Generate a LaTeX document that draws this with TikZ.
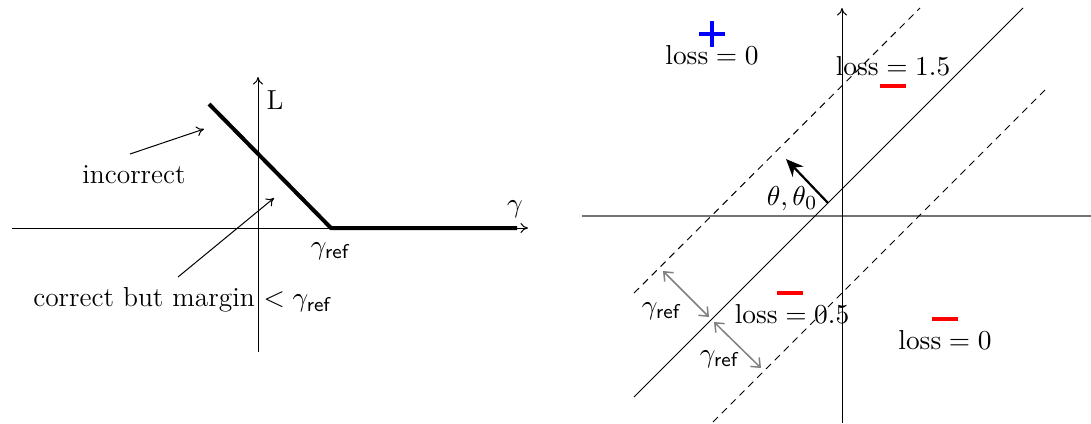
\documentclass[tikz,border=0pt]{standalone}
\usetikzlibrary{arrows.meta}
\begin{document}
\begin{tikzpicture}[x=0.4pt,y=-0.4pt,
  every node/.style={font=\fontsize{11}{13}\selectfont, inner sep=1pt},
  axis/.style={line width=0.4pt, -{To[length=3pt,width=4pt]}},
  thickline/.style={line width=1.6pt},
  ann/.style={line width=0.4pt, -{To[length=3pt,width=4pt]}},
  dashline/.style={line width=0.4pt, dash pattern=on 2.8pt off 2.2pt},
  gap/.style={gray, line width=0.6pt, {Straight Barb[length=3pt,width=5pt]}-{Straight Barb[length=3pt,width=5pt]}},
  minus/.style={red, line width=1.6pt},
  plus/.style={blue, line width=1.6pt}]
\useasboundingbox (0,0) rectangle (1091,423);
% ---------- left plot ----------
\coordinate (hl) at (12,228); \coordinate (hr) at (528,228);
\coordinate (vb) at (258,352); \coordinate (vt) at (258,77);
\draw[axis] (hl) -- (hr);
\draw[axis] (vb) -- (vt);
\coordinate (p1) at (209,104); \coordinate (p2) at (331,228); \coordinate (p3) at (517,228);
\draw[thickline] (p1) -- (p2) -- (p3);
\node (Llab) at (275,100) {L};
\node (glab) at (515,209) {$\gamma$};
\node (gref) at (331,251) {$\gamma_{\mathsf{ref}}$};
\node (inc) at (134,175) {incorrect};
\coordinate (inc0) at (130,154); \coordinate (inc1) at (204,129);
\draw[ann] (inc0) -- (inc1);
\node (cor) at (183,300) {correct but margin $<\gamma_{\mathsf{ref}}$};
\coordinate (cor0) at (178,277); \coordinate (cor1) at (274,198);
\draw[ann] (cor0) -- (cor1);
% ---------- right plot ----------
\coordinate (rhl) at (582,216); \coordinate (rhr) at (1091,216);
\draw[gray!90!black, line width=0.9pt] (rhl) -- (rhr);
\coordinate (rvb) at (842,423); \coordinate (rvt) at (842,8);
\draw[axis] (rvb) -- (rvt);
\coordinate (s0) at (634,397); \coordinate (s1) at (1023,8);
\draw[line width=0.4pt] (s0) -- (s1);
\coordinate (u0) at (634,293); \coordinate (u1) at (920,8);
\draw[dashline] (u0) -- (u1);
\coordinate (d0) at (713,422); \coordinate (d1) at (1046,89);
\draw[dashline] (d0) -- (d1);
\coordinate (n0) at (828,203); \coordinate (n1) at (786,159);
\draw[line width=0.9pt, -{Stealth[length=7pt,width=6pt]}] (n0) -- (n1);
\node (theta) at (792,199) {$\theta,\theta_0$};
% margins
\coordinate (g1a) at (663,271); \coordinate (g1b) at (709,317);
\coordinate (g2a) at (714,322); \coordinate (g2b) at (761,368);
\draw[gap] (g1a) -- (g1b);
\draw[gap] (g2a) -- (g2b);
\node (gr1) at (662,311) {$\gamma_{\mathsf{ref}}$};
\node (gr2) at (720,359) {$\gamma_{\mathsf{ref}}$};
% labels
\node (l0a) at (712,55) {$\mathrm{loss}=0$};
\node (l15) at (893,66) {$\mathrm{loss}=1.5$};
\node (l05) at (792,314) {$\mathrm{loss}=0.5$};
\node (l0b) at (945,340) {$\mathrm{loss}=0$};
% signs
\coordinate (pc) at (712,34);
\draw[plus] (pc) +(-13,0) -- +(13,0);
\draw[plus] (pc) +(0,-13) -- +(0,13);
\coordinate (m1) at (893,86); \coordinate (m2) at (790,293); \coordinate (m3) at (945,319);
\draw[minus] (m1) +(-13,0) -- +(13,0);
\draw[minus] (m2) +(-13,0) -- +(13,0);
\draw[minus] (m3) +(-13,0) -- +(13,0);
\end{tikzpicture}
\end{document}
